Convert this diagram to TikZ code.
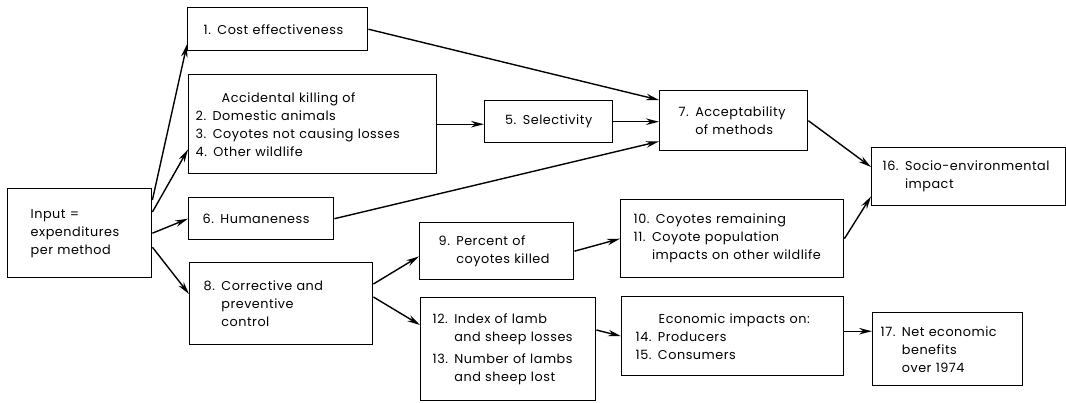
\documentclass[tikz,border=0pt]{standalone}
\usepackage{fontspec}
\setmainfont{Poppins}[LetterSpace=4,WordSpace=1.4]
\usetikzlibrary{arrows.meta}

\newcommand{\hangin}[1]{\phantom{#1}}
\newcommand{\boxfont}{\fontsize{12.8}{18}\selectfont\hyphenpenalty=10000\relax\exhyphenpenalty=10000\relax}

\begin{document}
\begin{tikzpicture}[x=1pt,y=-1pt,->,>={Stealth[length=13pt,width=6.5pt]},line width=1.4pt,
  box/.style={draw,anchor=north west,align=left,inner xsep=14pt,inner ysep=0pt,
    font=\boxfont}]

  \useasboundingbox (0,0) rectangle (1066,402);

  \node[box, inner xsep=23pt, text width=98pt, minimum height=89pt] (in) at (7,188)
    {Input =\\expenditures\\per method};
  \node[box, inner xsep=16pt, text width=148pt, minimum height=43pt] (n1) at (187,7)
    {1. Cost effectiveness};
  \node[box, inner xsep=7pt, text width=234pt, minimum height=99pt] (n2) at (188,74)
    {\hspace*{26pt}Accidental killing of\\2. Domestic animals\\3. Coyotes not causing losses\\4. Other wildlife};
  \node[box, align=center, inner xsep=0pt, text width=128pt, minimum height=42pt] (n5) at (484,100)
    {5. Selectivity};
  \node[box, text width=117pt, minimum height=42pt] (n6) at (188,197)
    {6. Humaneness};
  \node[box, inner xsep=19pt, text width=110pt, minimum height=60pt] (n7) at (659,90)
    {7. Acceptability\\\hangin{7. }of methods};
  \node[box, text width=155pt, minimum height=82pt] (n8) at (189,262)
    {8. Corrective and\\\hangin{8. }preventive\\\hangin{8. }control};
  \node[box, inner xsep=19pt, text width=116pt, minimum height=57pt] (n9) at (419,222)
    {9. Percent of\\\hangin{9. }coyotes killed};
  \node[box, inner xsep=13pt, text width=197pt, minimum height=78pt] (n10) at (620,199)
    {10. Coyotes remaining\\11. Coyote population\\\hangin{11. }impacts on other wildlife};
  \node[box, inner xsep=12pt, text width=151pt, minimum height=103pt] (n12) at (420,297)
    {12. Index of lamb\\\hangin{12. }and sheep losses\\[4pt]13. Number of lambs\\\hangin{13. }and sheep lost};
  \node[box, text width=194pt, minimum height=79pt] (n14) at (621,296)
    {\hspace*{23pt}Economic impacts on:\\14. Producers\\15. Consumers};
  \node[box, inner xsep=11pt, text width=172pt, minimum height=58pt] (n16) at (871,147)
    {16. Socio-environmental\\\hangin{16. }impact};
  \node[box, inner xsep=8pt, text width=134pt, minimum height=73pt] (n17) at (872,312)
    {17. Net economic\\\hangin{17. }benefits\\\hangin{17. }over 1974};

  \draw ([yshift=-12pt]in.north east) to ([yshift=7pt]n1.south west);
  \draw ([yshift=-24pt]in.north east) to ([yshift=25pt]n2.south west);
  \draw (in.east) to (n6.west);
  \draw ([yshift=-14pt]in.east) to ([yshift=-32pt]n8.north west);
  \draw (n1.east) to ([yshift=-10pt]n7.north west);
  \draw (n2.east) to (n2.east -| n5.west);
  \draw (n5.east) to (n5.east -| n7.west);
  \draw (n6.east) to ([yshift=10pt]n7.south west);
  \draw (n7.east) to ([yshift=-20pt]n16.north west);
  \draw (n10.east) to ([yshift=10pt]n16.south west);
  \draw ([yshift=-22pt]n8.north east) to ([yshift=24pt]n9.south west);
  \draw ([yshift=-35pt]n8.north east) to ([yshift=-28pt]n12.north west);
  \draw (n9.east) to (n10.west);
  \draw ([yshift=-33pt]n12.north east) to (n14.west);
  \draw ([yshift=5pt]n14.east) to ([yshift=5pt]n14.east -| n17.west);

\end{tikzpicture}
\end{document}
